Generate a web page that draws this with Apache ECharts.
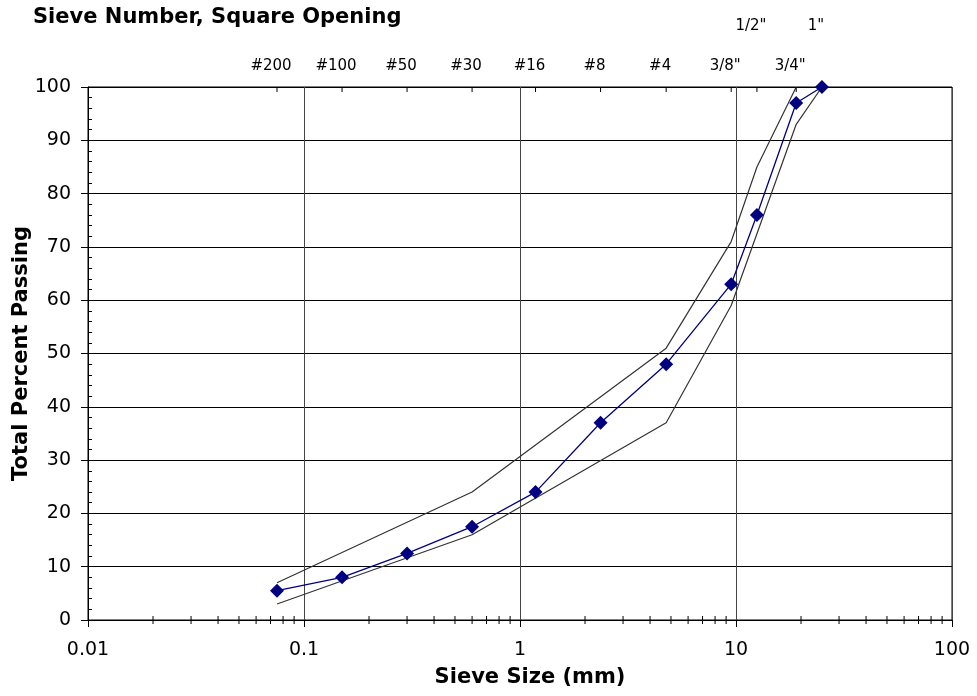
<!DOCTYPE html>
<html>
<head>
<meta charset="utf-8">
<script src="https://cdn.jsdelivr.net/npm/echarts@6/dist/echarts.min.js"></script>
<style>
html,body{margin:0;padding:0;background:#fff;}
#chart{width:977px;height:696px;}
</style>
</head>
<body>
<div id="chart"></div>
<script>
// ---- data ----
const sieveNames = ['#200', '#100', '#50', '#30', '#16', '#8', '#4', '3/8"', '1/2"', '3/4"', '1"'];
const sieveSizes = [0.075, 0.15, 0.3, 0.6, 1.18, 2.36, 4.75, 9.5, 12.5, 19, 25];
const passing = [5.5, 8, 12.5, 17.5, 24, 37, 48, 63, 76, 97, 100];
const upperSizes = [0.075, 0.6, 4.75, 9.5, 12.5, 19];
const upperLimit = [7, 24, 51, 71, 85, 100];
const lowerSizes = [0.075, 0.6, 4.75, 9.5, 19, 25];
const lowerLimit = [3, 16, 37, 59, 93, 100];
const xDecades = [0.01, 0.1, 1, 10];
const minorMultipliers = [2, 3, 4, 5, 6, 7, 8, 9];

// ---- build ----
const minorTicks = [];
xDecades.forEach(d => minorMultipliers.forEach(m => minorTicks.push([d * m, 0])));
const upperRow = new Set(['1/2"', '1"']);
const FONT = 'DejaVu Sans';

const chart = echarts.init(document.getElementById('chart'), null, {renderer: 'canvas'});
chart.setOption({
  animation: false,
  backgroundColor: '#fff',
  title: {
    text: 'Sieve Number, Square Opening',
    left: 28, top: 2,
    textStyle: {fontFamily: FONT, fontSize: 21, fontWeight: 'bold', color: '#000'}
  },
  grid: {left: 88, right: 25, top: 87, bottom: 76, show: true, borderColor: '#000', borderWidth: 1,
    containLabel: false, outerBoundsMode: 'none'},
  xAxis: [{
    type: 'log', logBase: 10, min: 0.01, max: 100,
    name: 'Sieve Size (mm)', nameLocation: 'middle', nameGap: 47,
    nameTextStyle: {fontFamily: FONT, fontSize: 21, fontWeight: 'bold', color: '#000', padding: [0, 0, 0, 20]},
    axisLine: {show: true, lineStyle: {color: '#000', width: 1}},
    axisTick: {show: true, inside: false, length: 7, lineStyle: {color: '#000'}},
    axisLabel: {fontFamily: FONT, fontSize: 19, color: '#000', margin: 21,
      formatter: v => String(parseFloat(Number(v).toPrecision(6)))},
    splitLine: {show: true, lineStyle: {color: '#444', width: 1}}
  }],
  yAxis: [{
    type: 'value', min: 0, max: 100, interval: 10,
    name: 'Total Percent Passing', nameLocation: 'middle', nameGap: 56, nameMoveOverlap: false,
    nameTextStyle: {fontFamily: FONT, fontSize: 21, fontWeight: 'bold', color: '#000'},
    axisLine: {show: true, lineStyle: {color: '#000', width: 1}},
    axisTick: {show: true, inside: false, length: 7, lineStyle: {color: '#000'}},
    axisLabel: {fontFamily: FONT, fontSize: 19, color: '#000', margin: 17},
    splitLine: {show: true, lineStyle: {color: '#000', width: 1}}
  }, {
    type: 'value', min: 0, max: 100, interval: 2, position: 'left',
    axisLine: {show: false},
    axisTick: {show: true, inside: true, length: 4, lineStyle: {color: '#000'}},
    axisLabel: {show: false},
    splitLine: {show: false}
  }],
  series: [
    {
      name: 'Upper limit', type: 'line', symbol: 'none', z: 2,
      lineStyle: {color: '#333', width: 1.2},
      data: upperSizes.map((s, i) => [s, upperLimit[i]])
    },
    {
      name: 'Lower limit', type: 'line', symbol: 'none', z: 2,
      lineStyle: {color: '#333', width: 1.2},
      data: lowerSizes.map((s, i) => [s, lowerLimit[i]])
    },
    {
      name: 'Total Percent Passing', type: 'line', z: 3,
      symbol: 'diamond', symbolSize: 14,
      itemStyle: {color: '#000080'},
      lineStyle: {color: '#000080', width: 1.3},
      data: sieveSizes.map((s, i) => [s, passing[i]])
    },
    {
      name: 'minor x ticks', type: 'custom', silent: true, z: 4,
      data: minorTicks,
      renderItem: (params, api) => {
        const p = api.coord([api.value(0), api.value(1)]);
        return {type: 'line', shape: {x1: p[0], y1: p[1] - 4, x2: p[0], y2: p[1] + 4},
          style: {stroke: '#000', lineWidth: 1}};
      }
    },
    {
      name: 'sieve numbers', type: 'custom', silent: true, z: 4,
      data: sieveSizes.map((s, i) => [s, 100]),
      renderItem: (params, api) => {
        const i = params.dataIndex;
        const p = api.coord([api.value(0), api.value(1)]);
        const name = sieveNames[i];
        const dy = upperRow.has(name) ? -61 : -21;
        return {type: 'group', children: [
          {type: 'line', shape: {x1: p[0], y1: p[1], x2: p[0], y2: p[1] + 5},
            style: {stroke: '#000', lineWidth: 1}},
          {type: 'text', x: p[0] - 6, y: p[1] + dy,
            style: {text: name, fontFamily: FONT, fontSize: 15, fill: '#000',
              align: 'center', verticalAlign: 'middle'}}
        ]};
      }
    }
  ]
});
</script>
</body>
</html>
